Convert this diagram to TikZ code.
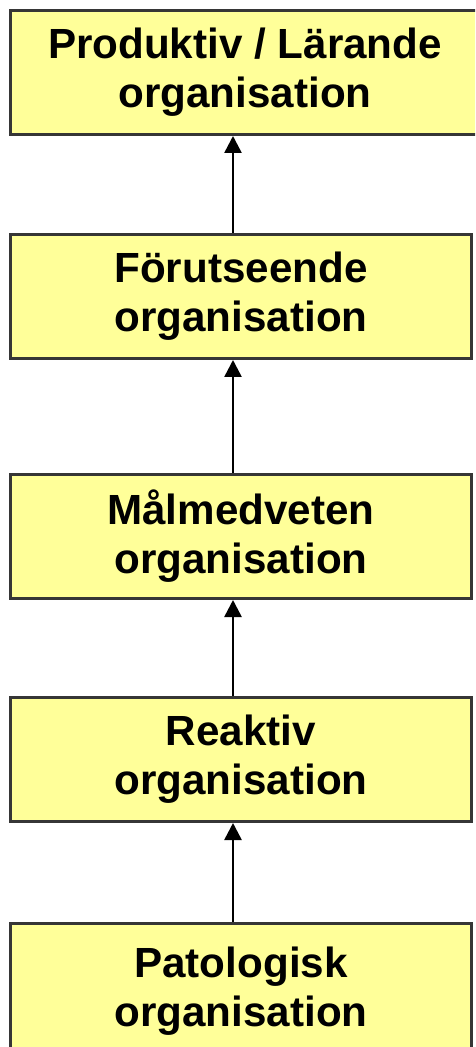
\documentclass[tikz,border=0pt]{standalone}
\usepackage{fontspec}
\setmainfont{Liberation Sans}
\usetikzlibrary{arrows.meta,positioning}

\definecolor{boxyellow}{HTML}{FFFF99}
\definecolor{boxframe}{HTML}{363636}

\begin{document}
\begin{tikzpicture}[
    level/.style={
        rectangle,
        draw=boxframe,
        line width=0.06cm,
        fill=boxyellow,
        minimum width=9.22cm,
        minimum height=2.48cm,
        align=center,
        inner sep=0pt,
        font=\fontsize{24}{28}\selectfont\bfseries
    },
    line/.style={
        draw,
        -{Triangle[width=0.34cm,length=0.34cm]},
        line width=0.05cm
    }
]
    \useasboundingbox (0,0) rectangle (9.5,-20.94);
    \clip (0,0) rectangle (9.5,-20.94);

    % Nodes
    \node [level, minimum height=2.7cm, anchor=north] (patol) at (4.82,-18.44) {Patologisk\\organisation};
    \node [level, above=1.98cm of patol] (reakt) {Reaktiv\\organisation};
    \node [level, above=1.92cm of reakt] (malm) {Målmedveten\\organisation};
    \node [level, above=2.26cm of malm] (forut) {Förutseende\\organisation};
    \node [level, minimum width=9.38cm, above=1.94cm of forut.north west, anchor=south west] (prod) {Produktiv / Lärande\\organisation};

    % Edges
    \coordinate (axis) at (4.66,0);
    \path [line] (patol.north -| axis) -- (reakt.south -| axis);
    \path [line] (reakt.north -| axis) -- (malm.south -| axis);
    \path [line] (malm.north -| axis) -- (forut.south -| axis);
    \path [line] (forut.north -| axis) -- (prod.south -| axis);

\end{tikzpicture}
\end{document}
